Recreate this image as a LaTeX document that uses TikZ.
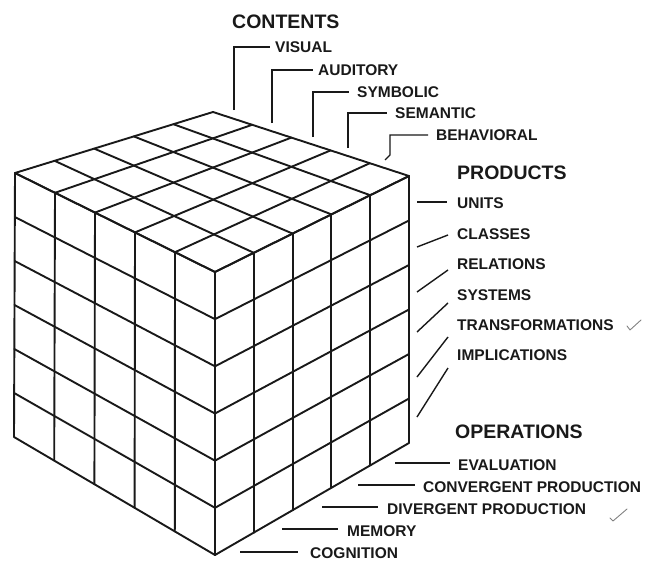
\documentclass[tikz,border=0pt]{standalone}
\usepackage{fontspec}
\setmainfont{Liberation Sans}
\usetikzlibrary{calc}

\tikzset{
  cube/.style={line width=1.9pt, black!90, line join=round, line cap=round},
  lead/.style={line width=1.4pt, black!90},
  lab/.style={font=\bfseries\fontsize{15.5}{16}\selectfont, text=black!90, inner sep=0pt, anchor=west},
  hdr/.style={font=\bfseries\fontsize{19.5}{20}\selectfont, text=black!90, inner sep=0pt, anchor=west},
  tick/.style={line width=0.9pt, black!50, line cap=round, line join=round}
}

\begin{document}
\begin{tikzpicture}[x=1pt, y=-1pt]
\useasboundingbox (0,0) rectangle (649,562);

% corners of the block (top face, then lower corners)
\coordinate (L)  at (15,173);
\coordinate (Bk) at (213,112);
\coordinate (R)  at (409,176);
\coordinate (F)  at (215,272);
\coordinate (LB) at (14,437);
\coordinate (FB) at (215,555);
\coordinate (RB) at (409,443);

% top face: 5 x 5 cells
\foreach \i in {0,...,5} {
  \draw[cube] ($(L)!\i/5!(Bk)$) -- ($(F)!\i/5!(R)$);
  \draw[cube] ($(L)!\i/5!(F)$) -- ($(Bk)!\i/5!(R)$);
}
% left face: 5 columns, 6 rows
\foreach \i in {0,...,5}
  \draw[cube] ($(L)!\i/5!(F)$) -- ($(LB)!\i/5!(FB)$);
\foreach \j in {0,...,6}
  \draw[cube] ($(L)!\j/6!(LB)$) -- ($(F)!\j/6!(FB)$);
% right face: 5 columns, 6 rows
\foreach \i in {0,...,5}
  \draw[cube] ($(F)!\i/5!(R)$) -- ($(FB)!\i/5!(RB)$);
\foreach \j in {0,...,6}
  \draw[cube] ($(F)!\j/6!(FB)$) -- ($(R)!\j/6!(RB)$);

% ---- contents ----
\node[hdr] (contents) at (232,22) {CONTENTS};
\node[lab] (visual)   at (275,47)  {VISUAL};
\node[lab] (auditory) at (318,70)  {AUDITORY};
\node[lab] (symbolic) at (357,92)  {SYMBOLIC};
\node[lab] (semantic) at (395,113) {SEMANTIC};
\node[lab] (behav)    at (436,135) {BEHAVIORAL};

\coordinate (c1) at (234,110);
\coordinate (c2) at (272,123);
\coordinate (c3) at (313,137);
\coordinate (c4) at (348,148);
\coordinate (c5) at (385,160);
\coordinate (c5k) at (390,155);

\draw[lead, shorten >=5pt] (c1) |- (visual.west);
\draw[lead, shorten >=5pt] (c2) |- (auditory.west);
\draw[lead, shorten >=8pt] (c3) |- (symbolic.west);
\draw[lead, shorten >=8pt] (c4) |- (semantic.west);
\draw[lead, shorten >=8pt] (c5) -- (c5k) |- (behav.west);

% ---- products ----
\node[hdr] (products) at (457,173) {PRODUCTS};
\node[lab] (units)     at (457,203) {UNITS};
\node[lab] (classes)   at (457,234) {CLASSES};
\node[lab] (relations) at (457,264) {RELATIONS};
\node[lab] (systems)   at (457,295) {SYSTEMS};
\node[lab] (transf)    at (457,325) {TRANSFORMATIONS};
\node[lab] (implic)    at (457,355) {IMPLICATIONS};

\coordinate (p1) at (417,202);
\coordinate (p2) at (417,247);
\coordinate (p3) at (417,292);
\coordinate (p4) at (417,332);
\coordinate (p5) at (417,377);
\coordinate (p6) at (417,417);

\draw[lead, shorten >=10pt] (p1) -- (p1 -| units.west);
\draw[lead] (p2) -- ([xshift=-9pt, yshift=-1pt]classes.west);
\draw[lead] (p3) -- ([xshift=-9pt, yshift=-6pt]relations.west);
\draw[lead] (p4) -- ([xshift=-9pt, yshift=-8pt]systems.west);
\draw[lead] (p5) -- ([xshift=-9pt, yshift=-12pt]transf.west);
\draw[lead] (p6) -- ([xshift=-9pt, yshift=-13pt]implic.west);

% ---- operations ----
\node[hdr] (operations) at (455,432) {OPERATIONS};
\node[lab] (evaluation) at (458,465) {EVALUATION};
\node[lab] (convergent) at (423,487) {CONVERGENT PRODUCTION};
\node[lab] (divergent)  at (387,509) {DIVERGENT PRODUCTION};
\node[lab] (memory)     at (347,531) {MEMORY};
\node[lab] (cognition)  at (310,553) {COGNITION};

\coordinate (o1) at (395,463);
\coordinate (o2) at (358,485);
\coordinate (o3) at (322,507);
\coordinate (o4) at (282,529);
\coordinate (o5) at (240,552);

\draw[lead, shorten >=8pt]  (o1) -- (o1 -| evaluation.west);
\draw[lead, shorten >=8pt]  (o2) -- (o2 -| convergent.west);
\draw[lead, shorten >=9pt]  (o3) -- (o3 -| divergent.west);
\draw[lead, shorten >=9pt]  (o4) -- (o4 -| memory.west);
\draw[lead, shorten >=12pt] (o5) -- (o5 -| cognition.west);

% pencil ticks
\draw[tick] (627,326) -- (630,330) -- (641,320);
\draw[tick] (610,518) -- (613,521) -- (627,509);
\end{tikzpicture}
\end{document}
